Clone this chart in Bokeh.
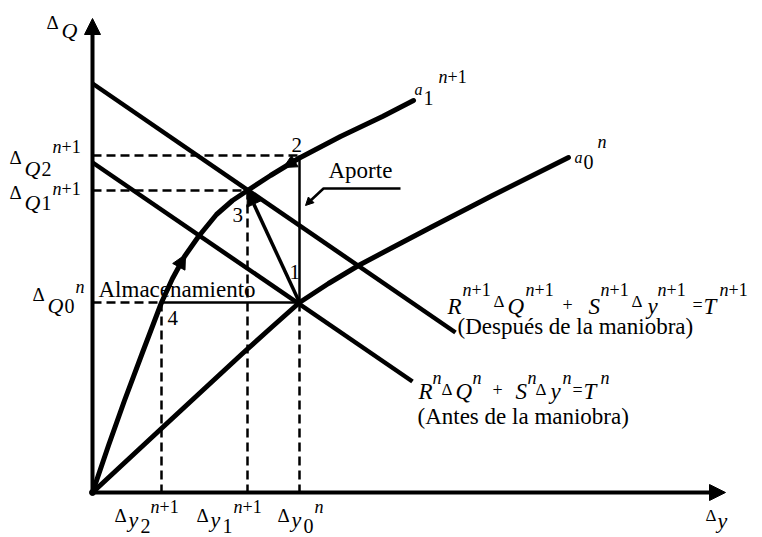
from bokeh.plotting import figure
from bokeh.models import Range1d, Arrow, NormalHead, ColumnDataSource
from bokeh.embed import file_html
from bokeh.resources import INLINE
from bokeh.core.properties import value

# Operating values marked on the axes
dy_values = [69, 155, 207]      # Δy2^{n+1}, Δy1^{n+1}, Δy0^n
dq_values = [190, 302, 337]     # ΔQ0^n, ΔQ1^{n+1}, ΔQ2^{n+1}

# Characteristic curve a1^{n+1}
a1_dy = [0, 16, 32, 50, 69, 80, 92, 106, 124, 140, 155, 178, 206, 248, 290, 321]
a1_dq = [0, 47, 92, 140, 190, 214, 236, 256, 278, 292, 302, 317, 334, 356, 376, 392]

# Characteristic curve a0^n
a0_dy = [0, 70, 150, 180, 207, 236, 266, 300, 340, 400, 476]
a0_dq = [0, 65, 139, 166, 190, 209, 227, 245, 266, 297, 335]

# Linearised equations R ΔQ + S Δy = T
after_dy = [0, 363]
after_dq = [409, 160]
before_dy = [0, 320]
before_dq = [330, 111]

# Axis extents
axis_dy_max = 633
axis_dq_max = 474

FONT = "Liberation Serif"
INK = "black"
TEXT_RISE = 6   # lifts glyph baselines onto their nominal positions

p = figure(width=762, height=537, x_range=Range1d(-92, 670), y_range=Range1d(-45, 492),
           toolbar_location=None, output_backend="svg", min_border=0)
p.axis.visible = False
p.grid.visible = False
p.outline_line_color = None
p.background_fill_color = "white"
p.border_fill_color = "white"

dy2, dy1, dy0 = dy_values
dq0, dq1, dq2 = dq_values

# Dashed reference lines
p.segment(x0=[0, 0, 0], y0=[dq0, dq1, dq2], x1=[dy2, dy1, dy0], y1=[dq0, dq1, dq2],
          line_color=INK, line_width=2.5, line_dash="9 5")
p.segment(x0=[dy2, dy1, dy0], y0=[dq0, dq1, dq0], x1=[dy2, dy1, dy0], y1=[0, 0, 0],
          line_color=INK, line_width=2.5, line_dash="9 5")

# Storage (horizontal) and inflow (vertical) thin lines
p.segment(x0=[dy2, dy0], y0=[dq0, dq0], x1=[dy0, dy0], y1=[dq0, dq2],
          line_color=INK, line_width=2.5)

# Straight equation lines
p.line(after_dy, after_dq, line_color=INK, line_width=4.5)
p.line(before_dy, before_dq, line_color=INK, line_width=4.5)

# Characteristic curves
p.line(a1_dy, a1_dq, line_color=INK, line_width=5, line_join="round", line_cap="round")
p.line(a0_dy, a0_dq, line_color=INK, line_width=5, line_join="round", line_cap="round")

# Axes with arrow heads
p.add_layout(Arrow(end=NormalHead(size=16, fill_color=INK, line_color=INK),
                   x_start=0, y_start=0, x_end=0, y_end=axis_dq_max,
                   line_color=INK, line_width=4))
p.add_layout(Arrow(end=NormalHead(size=16, fill_color=INK, line_color=INK),
                   x_start=0, y_start=0, x_end=axis_dy_max, y_end=0,
                   line_color=INK, line_width=4))
p.scatter([0], [0], size=6, color=INK)

# Step 1: from state 0 to state 3
p.add_layout(Arrow(end=NormalHead(size=15, fill_color=INK, line_color=INK),
                   x_start=dy0, y_start=dq0, x_end=dy1, y_end=dq1,
                   line_color=INK, line_width=3.5))
# Direction marks along a1
p.add_layout(Arrow(end=NormalHead(size=14, fill_color=INK, line_color=INK),
                   x_start=a1_dy[5], y_start=a1_dq[5], x_end=93, y_end=238,
                   line_color=None))
p.add_layout(Arrow(end=NormalHead(size=13, fill_color=INK, line_color=INK),
                   x_start=dy0, y_start=dq2 - 3, x_end=191, y_end=325,
                   line_color=None))
# Leader for "Aporte"
p.line([308, 231, 216], [304, 304, 290], line_color=INK, line_width=2.5)
p.add_layout(Arrow(end=NormalHead(size=8, fill_color=INK, line_color=INK),
                   x_start=222, y_start=296, x_end=213, y_end=287, line_color=None))


def sup(x, y, size=18):
    """Superscript n+1 with an italic n."""
    return [("n", x, y, size, True), ("+1", x + 9, y, size, False)]


D = 19  # size of the Δ glyph
labels = []
# ΔQ axis title
labels += [("Δ", -46, 464, D, False), ("Q", -31, 456, 22, True)]
# ΔQ levels
labels += [("Δ", -83, 329, D, False), ("Q", -68, 318, 22, True), ("2", -51, 318, 20, False)]
labels += sup(-40, 340)
labels += [("Δ", -83, 294, D, False), ("Q", -68, 284, 22, True), ("1", -51, 284, 20, False)]
labels += sup(-40, 298)
labels += [("Δ", -60, 192, D, False), ("Q", -45, 181, 22, True), ("0", -28, 181, 20, False),
           ("n", -17, 200, 18, True)]
# Δy levels
labels += [("Δ", 22, -29, D, False), ("y", 36, -33, 22, True), ("2", 48, -39, 20, False)]
labels += sup(58, -20)
labels += [("Δ", 104, -29, D, False), ("y", 118, -33, 22, True), ("1", 130, -39, 20, False)]
labels += sup(141, -20)
labels += [("Δ", 185, -29, D, False), ("y", 199, -33, 22, True), ("0", 211, -39, 20, False),
           ("n", 222, -20, 18, True)]
# Δy axis title
labels += [("Δ", 613, -29, 17, False), ("y", 625, -34, 22, True)]
# Curve names
labels += [("a", 322, 397, 16, True), ("1", 331, 389, 20, False)]
labels += sup(346, 410)
labels += [("a", 482, 329, 16, True), ("0", 491, 325, 20, False), ("n", 505, 345, 18, True)]
# Step numbers
labels += [("4", 75, 169, 21, False), ("3", 140, 272, 21, False),
           ("1", 197, 215, 21, False), ("2", 199, 342, 21, False)]
# Words
labels += [("Almacenamiento", 6, 197, 23, False), ("Aporte", 236, 316, 23, False)]
# Equation after the manoeuvre
labels += [("R", 355, 180, 23, True)] + sup(370, 197)
labels += [("Δ", 401, 185, 17, False), ("Q", 415, 180, 23, True)] + sup(433, 197)
labels += [("+", 470, 182, 18, False), ("S", 496, 180, 23, True)] + sup(508, 197)
labels += [("Δ", 539, 185, 17, False), ("y", 555, 180, 23, True)] + sup(565, 197)
labels += [("=", 600, 182, 18, False), ("T", 611, 180, 23, True)] + sup(627, 197)
labels += [("(Después de la maniobra)", 365, 160, 23, False)]
# Equation before the manoeuvre
labels += [("R", 326, 95, 23, True), ("n", 340, 109, 18, True),
           ("Δ", 349, 97, 17, False), ("Q", 363, 95, 23, True), ("n", 380, 109, 18, True),
           ("+", 400, 97, 18, False),
           ("S", 423, 95, 23, True), ("n", 435, 109, 18, True),
           ("Δ", 443, 97, 17, False), ("y", 458, 95, 23, True), ("n", 470, 109, 18, True),
           ("=", 480, 97, 18, False), ("T", 491, 95, 23, True), ("n", 508, 109, 18, True)]
labels += [("(Antes de la maniobra)", 325, 70, 23, False)]

for italic in (False, True):
    rows = [r for r in labels if r[4] == italic]
    src = ColumnDataSource(dict(
        text=[r[0] for r in rows], x=[r[1] for r in rows],
        y=[r[2] + TEXT_RISE for r in rows],
        size=[f"{r[3]}px" for r in rows]))
    p.text(x="x", y="y", text="text", source=src, text_font=value(FONT),
           text_font_size="size", text_font_style="italic" if italic else "normal",
           text_baseline="alphabetic", text_align="left", text_color=INK)

open("out.html", "w").write(file_html(p, INLINE))
